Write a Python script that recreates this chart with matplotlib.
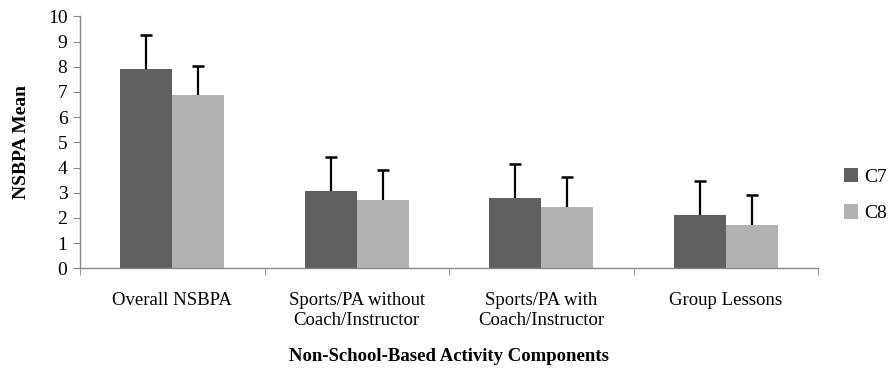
import matplotlib
matplotlib.use('Agg')
import matplotlib.pyplot as plt
import numpy as np

categories = ['Overall NSBPA', 'Sports/PA without\nCoach/Instructor',
              'Sports/PA with\nCoach/Instructor', 'Group Lessons']
c7_mean = [7.92, 3.05, 2.77, 2.12]
c7_err = [1.35, 1.36, 1.35, 1.35]
c8_mean = [6.87, 2.71, 2.45, 1.70]
c8_err = [1.17, 1.18, 1.18, 1.19]

plt.rcParams['font.family'] = ['Liberation Serif', 'DejaVu Serif']

fig = plt.figure(figsize=(8.93, 3.70), dpi=100)
ax = fig.add_axes([80 / 893, 1 - 268.3 / 370, 738 / 893, 252 / 370])

x = np.arange(len(categories))
w = 0.283
series = [(x - w / 2, c7_mean, c7_err, '#606060', 'C7'),
          (x + w / 2, c8_mean, c8_err, '#b2b2b2', 'C8')]
for xs, m, e, col, lab in series:
    ax.bar(xs, m, w, color=col, label=lab, zorder=2)
    top = np.array(m) + np.array(e)
    # upper-only error bars with a cap at the top
    ax.vlines(xs, m, top, color='black', linewidth=1.6, zorder=3)
    ax.plot(xs, top, linestyle='none', marker='_', markersize=8,
            markeredgewidth=1.8, color='black', zorder=3)

ax.set_xlim(-0.5, len(categories) - 0.5)
ax.set_ylim(0, 10)
ax.set_yticks(range(0, 11))
ax.set_xticks(x)
ax.set_xticklabels(categories, fontsize=13.5, linespacing=1.2)
ax.set_xticks(np.arange(-0.5, len(categories) + 0.5, 1), minor=True)
ax.tick_params(axis='x', which='major', length=0, pad=17)
ax.tick_params(axis='x', which='minor', length=5, color='#868686', direction='out')
ax.tick_params(axis='y', labelsize=14, length=5, color='#868686', pad=4)

for s in ['top', 'right']:
    ax.spines[s].set_visible(False)
for s in ['left', 'bottom']:
    ax.spines[s].set_color('#868686')
    ax.spines[s].set_linewidth(1.0)

ax.set_ylabel('NSBPA Mean', fontsize=14, fontweight='bold', labelpad=13)
ax.set_xlabel('Non-School-Based Activity Components', fontsize=13.5,
              fontweight='bold', labelpad=14)

ax.legend(loc='center left', bbox_to_anchor=(1.035, 0.29), frameon=False,
          fontsize=14, handlelength=0.75, handleheight=0.75, handletextpad=0.3,
          labelspacing=0.95, borderpad=0, borderaxespad=0)

fig.savefig('out.png', dpi=100)
